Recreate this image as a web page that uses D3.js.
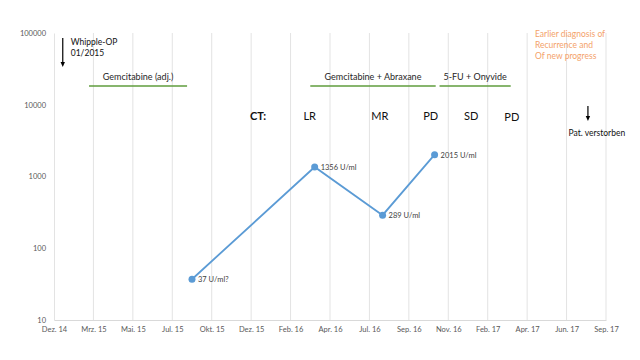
<!DOCTYPE html>
<html><head><meta charset="utf-8">
<script src="https://cdn.jsdelivr.net/npm/d3@7"></script>
<style>body{margin:0;background:#fff}svg{display:block;font-family:Lato,"Liberation Sans",sans-serif}</style>
</head><body>
<svg id="c" width="640" height="360"></svg>
<script>
// ---- data ----
const axisStart = "2014-12-20";
const tickStepDays = 72;
const tickLabels = ["Dez. 14","Mrz. 15","Mai. 15","Jul. 15","Okt. 15","Dez. 15","Feb. 16","Apr. 16","Jul. 16","Sep. 16","Nov. 16","Feb. 17","Apr. 17","Jun. 17","Sep. 17"];
const yTicks = [10, 100, 1000, 10000, 100000];
const caDates = ["2015-08-29","2016-04-09","2016-08-11","2016-11-14"];
const caValues = [37, 1356, 289, 2015];
const caLabels = ["37 U/ml?","1356 U/ml","289 U/ml","2015 U/ml"];
const therapyNames = ["Gemcitabine (adj.)","Gemcitabine + Abraxane","5-FU + Onyvide"];
const therapyStart = ["2015-02-22","2016-04-01","2016-11-23"];
const therapyEnd = ["2015-08-20","2016-11-16","2017-04-02"];
const ctLabels = ["LR","MR","PD","SD","PD"];
const ctDates = ["2016-03-31","2016-08-06","2016-11-07","2017-01-20","2017-04-04"];
const whippleDate = "2015-01-05";
const deathDate = "2017-08-21";

// ---- chart ----
const svg = d3.select("#c");
const parse = d3.utcParse("%Y-%m-%d");
const d0 = parse(axisStart);
const tickDates = tickLabels.map((_, i) => d3.utcDay.offset(d0, i * tickStepDays));
const x = d3.scaleUtc().domain([d0, tickDates[tickDates.length - 1]]).range([54, 606]);
const y = d3.scaleLog().domain([10, 100000]).range([320, 33]);

const grey = "#595959";
// vertical gridlines
svg.append("g").selectAll("line").data(tickDates.slice(1)).join("line")
  .attr("x1", d => x(d)).attr("x2", d => x(d)).attr("y1", y(100000)).attr("y2", y(10))
  .attr("stroke", "#e3e3e3").attr("stroke-width", 1);

// x axis
const xAxis = svg.append("g").attr("transform", `translate(0,${y(10)})`)
  .call(d3.axisBottom(x).tickValues(tickDates).tickFormat((d, i) => tickLabels[i]).tickSize(0).tickPadding(7));
xAxis.select(".domain").attr("stroke", "#d9d9d9");
xAxis.selectAll("text").attr("fill", grey).attr("font-size", 7.5).attr("font-family", "Lato,sans-serif");

// y axis
const yAxis = svg.append("g").attr("transform", `translate(${x(d0)},0)`)
  .call(d3.axisLeft(y).tickValues(yTicks).tickFormat(d3.format("d")).tickSize(0).tickPadding(8));
yAxis.select(".domain").attr("stroke", "#e3e3e3");
yAxis.selectAll("text").attr("fill", grey).attr("font-size", 7.5).attr("font-family", "Lato,sans-serif");

// therapy bars
const thY = 86;
therapyNames.forEach((n, i) => {
  const a = x(parse(therapyStart[i])), b = x(parse(therapyEnd[i]));
  svg.append("line").attr("x1", a).attr("x2", b).attr("y1", thY).attr("y2", thY)
    .attr("stroke", "#5f9c3c").attr("stroke-width", 1.6);
  svg.append("text").attr("x", (a + b) / 2).attr("y", thY - 6).attr("text-anchor", "middle")
    .attr("font-size", 9).attr("fill", "#262626").text(n);
});

// CT labels
svg.append("text").attr("x", 258).attr("y", 120).attr("text-anchor", "middle")
  .attr("font-size", 11).attr("font-weight", "bold").attr("fill", "#111").text("CT:");
ctLabels.forEach((t, i) => {
  svg.append("text").attr("x", x(parse(ctDates[i]))).attr("y", i === 4 ? 121 : 120)
    .attr("text-anchor", "middle").attr("font-size", 11).attr("fill", "#111").text(t);
});

// downward arrows
function downArrow(cx, y1, y2) {
  svg.append("line").attr("x1", cx).attr("x2", cx).attr("y1", y1).attr("y2", y2 - 4)
    .attr("stroke", "#000").attr("stroke-width", 1.2);
  svg.append("path").attr("d", `M${cx - 2.2},${y2 - 5} L${cx + 2.2},${y2 - 5} L${cx},${y2} Z`).attr("fill", "#000");
}

const wx = x(parse(whippleDate));
downArrow(wx, 38, 67);
svg.append("text").attr("x", wx + 8).attr("y", 45).attr("font-size", 8.5).attr("fill", "#111").text("Whipple-OP");
svg.append("text").attr("x", wx + 8).attr("y", 56).attr("font-size", 8.5).attr("fill", "#111").text("01/2015");

const dx = x(parse(deathDate));
downArrow(dx, 106, 121);
svg.append("text").attr("x", dx + 9).attr("y", 136).attr("text-anchor", "middle")
  .attr("font-size", 8.5).attr("fill", "#111").text("Pat. verstorben");

// orange note
["Earlier diagnosis of","Recurrence and","Of new progress"].forEach((t, i) => {
  svg.append("text").attr("x", 535).attr("y", 37 + i * 11).attr("font-size", 8.5)
    .attr("fill", "#f4a26a").text(t);
});

// CA 19-9 line
const pts = caDates.map((d, i) => ({ d: parse(d), v: caValues[i], l: caLabels[i] }));
svg.append("path").datum(pts)
  .attr("d", d3.line().x(p => x(p.d)).y(p => y(p.v)))
  .attr("fill", "none").attr("stroke", "#5b9bd5").attr("stroke-width", 1.8);
svg.append("g").selectAll("circle").data(pts).join("circle")
  .attr("cx", p => x(p.d)).attr("cy", p => y(p.v)).attr("r", 3.5).attr("fill", "#5b9bd5");
svg.append("g").selectAll("text").data(pts).join("text")
  .attr("x", p => x(p.d) + 6).attr("y", p => y(p.v) + 3).attr("font-size", 7.5)
  .attr("fill", "#404040").text(p => p.l);
</script>
</body></html>
